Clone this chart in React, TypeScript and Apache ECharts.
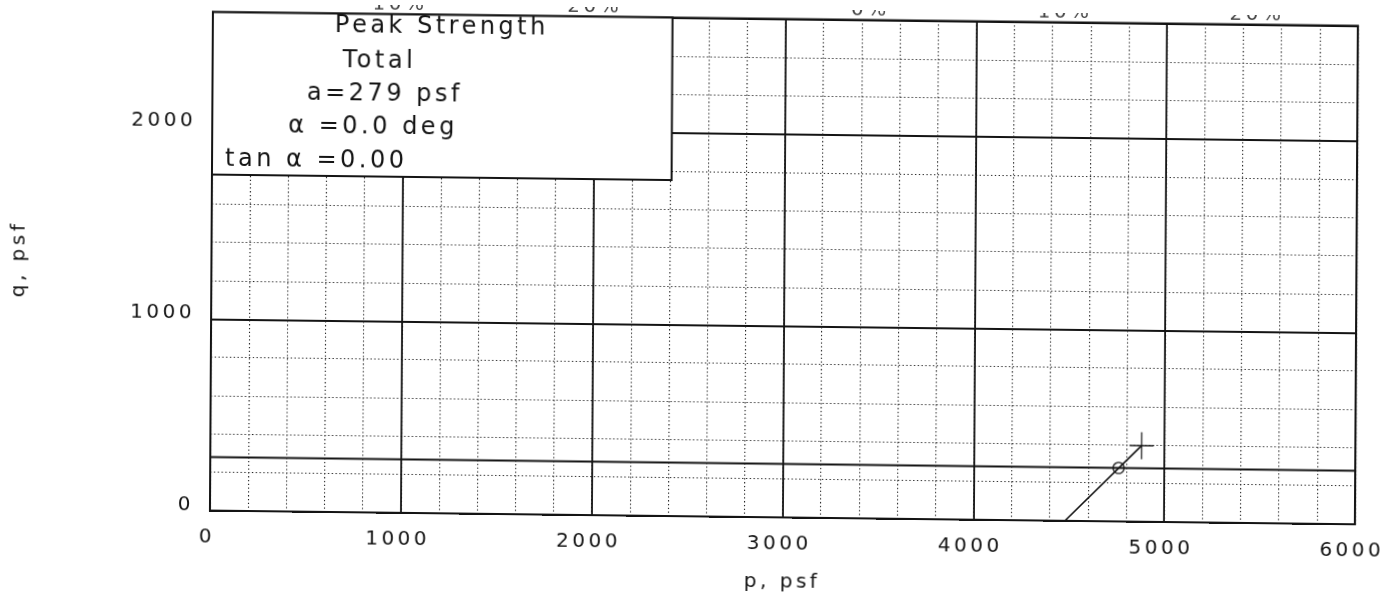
import { useEffect, useRef } from "react";
import * as echarts from "echarts";

// Axis ranges and grid steps (psf)
const P_MIN = 0;
const P_MAX = 6000;
const Q_MIN = 0;
const Q_MAX = 2600;
const MAJOR_STEP = 1000;
const MINOR_STEP = 200;

// Peak-strength envelope: q = a + p * tan(alpha)
const ENVELOPE_A = 279;
const ENVELOPE_ALPHA_DEG = 0.0;
const ENVELOPE_TAN_ALPHA = 0.0;

// Total stress path of the specimen (p, q)
const pathP = [4480, 4880];
const pathQ = [0, 397];

// Peak point on the envelope (circle) and end of the test (cross)
const peakPoint = [4760, 279];
const endPoint = [4880, 397];

// Strain markers printed along the top edge
const strainLabels = ["10%", "20%", "0%", "10%", "20%"];
const strainLabelP = [980, 2000, 3445, 4465, 5470];

// Annotation box lines
const boxLines = [
  "Peak Strength",
  "Total",
  `a=${ENVELOPE_A} psf`,
  `α =${ENVELOPE_ALPHA_DEG.toFixed(1)} deg`,
  `tan α =${ENVELOPE_TAN_ALPHA.toFixed(2)}`,
];

const INK = "#141414";
const DOT = "#1e1e1e";
const FONT = '"DejaVu Sans", sans-serif';

const GRID = { left: 213, top: 9.5, right: 30, bottom: 85 };
const BOX = { width: 459.6, height: 162.5 };
const BOX_TEXT_POS = [
  [122, 10.5],
  [130, 45],
  [94.5, 78],
  [76, 111],
  [13, 145],
];

function buildOption(): echarts.EChartsOption {
  const envelope = [
    [P_MIN, ENVELOPE_A + P_MIN * ENVELOPE_TAN_ALPHA],
    [P_MAX, ENVELOPE_A + P_MAX * ENVELOPE_TAN_ALPHA],
  ];
  const path = pathP.map((p, i) => [p, pathQ[i]]);

  const majorSplit = { show: true, lineStyle: { color: INK, width: 1.8 } };
  const minorSplit = {
    show: true,
    lineStyle: { color: DOT, width: 1.1, type: [1.3, 2.5] as number[] },
  };
  const hiddenParts = {
    axisLine: { show: false },
    axisTick: { show: false },
    axisLabel: { show: false },
  };

  return {
    animation: false,
    backgroundColor: "#fff",
    grid: {
      ...GRID,
      show: true,
      borderColor: INK,
      borderWidth: 2,
      backgroundColor: "transparent",
    },
    xAxis: [
      {
        type: "value",
        min: P_MIN,
        max: P_MAX,
        interval: MINOR_STEP,
        position: "top",
        ...hiddenParts,
        splitLine: minorSplit,
      },
      {
        type: "value",
        min: P_MIN,
        max: P_MAX,
        interval: MAJOR_STEP,
        position: "bottom",
        name: "p, psf",
        nameLocation: "middle",
        nameGap: 53,
        nameTextStyle: { fontFamily: FONT, fontSize: 20, color: INK },
        axisLine: { show: true, lineStyle: { color: INK, width: 2 } },
        axisTick: { show: false },
        axisLabel: {
          fontFamily: FONT,
          fontSize: 20,
          color: INK,
          margin: 15,
          padding: [0, 6, 0, 0],
          formatter: (v: number) => String(v),
        },
        splitLine: majorSplit,
      },
    ],
    yAxis: [
      {
        type: "value",
        min: Q_MIN,
        max: Q_MAX,
        interval: MINOR_STEP,
        position: "right",
        ...hiddenParts,
        splitLine: minorSplit,
      },
      {
        type: "value",
        min: Q_MIN,
        max: Q_MAX,
        interval: MAJOR_STEP,
        position: "left",
        name: "q, psf",
        nameLocation: "middle",
        nameGap: 184,
        nameTextStyle: { fontFamily: FONT, fontSize: 20, color: INK },
        axisLine: { show: true, lineStyle: { color: INK, width: 2 } },
        axisTick: { show: false },
        axisLabel: {
          fontFamily: FONT,
          fontSize: 20,
          color: INK,
          margin: 16,
          verticalAlign: "bottom",
          lineHeight: 15,
          showMaxLabel: false,
          formatter: (v: number) => (v % MAJOR_STEP === 0 ? String(v) : ""),
        },
        splitLine: majorSplit,
      },
    ],
    series: [
      {
        name: "Envelope",
        type: "line",
        xAxisIndex: 1,
        yAxisIndex: 1,
        data: envelope,
        symbol: "none",
        silent: true,
        lineStyle: { color: INK, width: 1.8 },
        z: 3,
      },
      {
        name: "Stress path",
        type: "line",
        xAxisIndex: 1,
        yAxisIndex: 1,
        data: path,
        symbol: "none",
        silent: true,
        lineStyle: { color: INK, width: 1.6 },
        z: 4,
      },
      {
        name: "Peak",
        type: "scatter",
        xAxisIndex: 1,
        yAxisIndex: 1,
        data: [peakPoint],
        symbol: "circle",
        symbolSize: 11,
        silent: true,
        itemStyle: { color: "rgba(0,0,0,0)", borderColor: INK, borderWidth: 1.5 },
        z: 5,
      },
      {
        name: "End",
        type: "scatter",
        xAxisIndex: 1,
        yAxisIndex: 1,
        data: [endPoint],
        symbol: "path://M10,0 L10,20 M0,10 L20,10",
        symbolSize: [24, 27],
        silent: true,
        itemStyle: { color: "rgba(0,0,0,0)", borderColor: INK, borderWidth: 1.6 },
        z: 5,
      },
      {
        name: "Strain",
        type: "scatter",
        xAxisIndex: 1,
        yAxisIndex: 1,
        data: strainLabelP.map((p) => [p, Q_MAX]),
        symbolSize: 0,
        clip: false,
        silent: true,
        label: {
          show: true,
          position: "top",
          distance: 2,
          formatter: (prm: any) => strainLabels[prm.dataIndex],
          fontFamily: FONT,
          fontSize: 20,
          color: INK,
        },
      },
    ],
    graphic: [
      {
        type: "group",
        x: GRID.left,
        y: GRID.top,
        z: 100,
        children: [
          {
            type: "rect",
            z: 100,
            shape: { x: 0, y: 0, width: BOX.width, height: BOX.height },
            style: { fill: "#fff", stroke: INK, lineWidth: 2 },
          },
          ...boxLines.map((text, i) => ({
            type: "text" as const,
            z: 101,
            x: BOX_TEXT_POS[i][0],
            y: BOX_TEXT_POS[i][1],
            style: {
              text,
              fill: INK,
              font: `24px ${FONT}`,
              textAlign: "left" as const,
              textVerticalAlign: "middle" as const,
            },
          })),
        ],
      },
    ],
  };
}

export default function App() {
  const ref = useRef<HTMLDivElement>(null);

  useEffect(() => {
    if (!ref.current) return;
    const chart = echarts.init(ref.current, null, { renderer: "svg" });
    chart.setOption(buildOption());
    return () => chart.dispose();
  }, []);

  return (
    <div
      ref={ref}
      style={{
        position: "fixed",
        left: 0,
        top: 0,
        width: 1388,
        height: 593,
        background: "#fff",
        letterSpacing: "3.5px",
        transform: "matrix(1, 0.012, -0.006, 1, 0, 0)",
        transformOrigin: "0 0",
      }}
    />
  );
}
